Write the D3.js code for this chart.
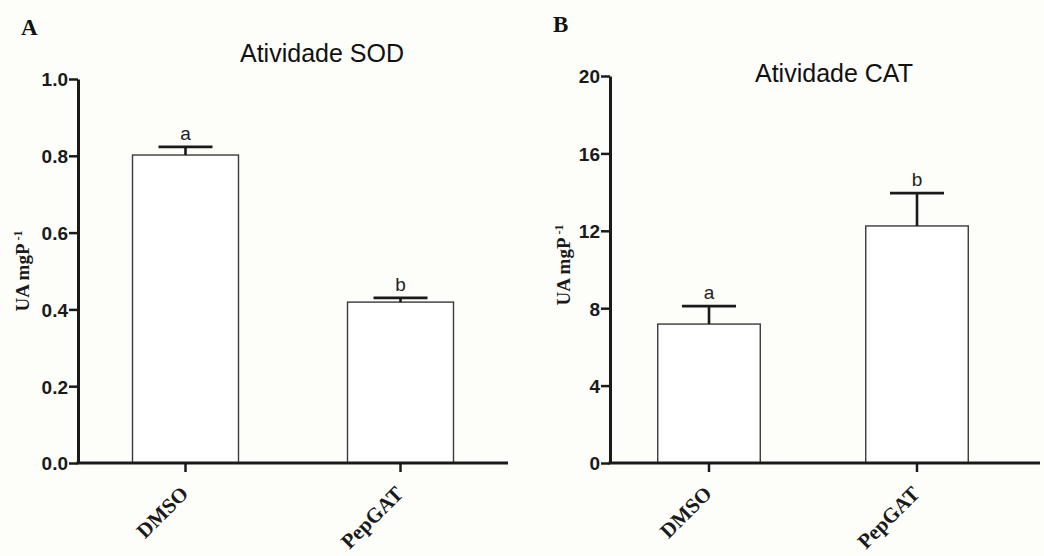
<!DOCTYPE html>
<html>
<head>
<meta charset="utf-8">
<script src="https://cdn.jsdelivr.net/npm/d3@7"></script>
<style>
  html, body { margin: 0; padding: 0; background: #fdfdfa; }
  svg { display: block; }
  .tick text { font-family: "Liberation Sans", Arial, sans-serif; font-weight: bold; font-size: 19px; fill: #1a1a1a; }
</style>
</head>
<body>
<script>
var groups = ['DMSO', 'PepGAT'];

var sodMean = [0.802, 0.419];
var sodErr = [0.021, 0.011];
var sodLetters = ['a', 'b'];
var sodTicks = [0, 0.2, 0.4, 0.6, 0.8, 1.0];

var catMean = [7.18, 12.25];
var catErr = [0.93, 1.70];
var catLetters = ['a', 'b'];
var catTicks = [0, 4, 8, 12, 16, 20];

var w = 1044;
var h = 556;

var svg = d3.select('body').append('svg')
  .attr('width', w)
  .attr('height', h);

function panel(o) {
  var g = svg.append('g');

  var x = d3.scaleBand()
    .domain(groups)
    .range(o.band)
    .paddingInner(0.507)
    .paddingOuter(0.2535);

  var y = d3.scaleLinear()
    .domain([0, o.max])
    .range([463, o.top]);

  // bars
  g.selectAll('rect.bar')
    .data(o.mean)
    .enter().append('rect')
    .attr('class', 'bar')
    .attr('x', function(d, i) { return x(groups[i]); })
    .attr('y', function(d) { return y(d); })
    .attr('width', x.bandwidth())
    .attr('height', function(d) { return y(0) - y(d); })
    .attr('fill', '#ffffff')
    .attr('stroke', '#3a3a3a')
    .attr('stroke-width', 1.4);

  // error bars (upper only)
  var cx = function(i) { return x(groups[i]) + x.bandwidth() / 2; };
  g.selectAll('line.err')
    .data(o.mean)
    .enter().append('line')
    .attr('x1', function(d, i) { return cx(i); })
    .attr('x2', function(d, i) { return cx(i); })
    .attr('y1', function(d) { return y(d); })
    .attr('y2', function(d, i) { return y(d + o.err[i]); })
    .attr('stroke', '#1a1a1a')
    .attr('stroke-width', 2.6);

  g.selectAll('line.cap')
    .data(o.mean)
    .enter().append('line')
    .attr('x1', function(d, i) { return cx(i) - 27; })
    .attr('x2', function(d, i) { return cx(i) + 27; })
    .attr('y1', function(d, i) { return y(d + o.err[i]); })
    .attr('y2', function(d, i) { return y(d + o.err[i]); })
    .attr('stroke', '#1a1a1a')
    .attr('stroke-width', 2.8);

  g.selectAll('text.letter')
    .data(o.letters)
    .enter().append('text')
    .attr('x', function(d, i) { return cx(i); })
    .attr('y', function(d, i) { return y(o.mean[i] + o.err[i]) - 7; })
    .attr('text-anchor', 'middle')
    .style('font-family', '"Liberation Sans", Arial, sans-serif')
    .style('font-size', '19px')
    .style('fill', '#222')
    .text(function(d) { return d; });

  // y axis
  var ya = g.append('g')
    .attr('transform', 'translate(' + o.axisX + ',0)')
    .call(d3.axisLeft(y).tickValues(o.ticks).tickFormat(o.fmt).tickSize(9).tickPadding(1).tickSizeOuter(0));
  ya.select('.domain').attr('stroke', '#1a1a1a').attr('stroke-width', 3);
  ya.selectAll('.tick line').attr('stroke', '#1a1a1a').attr('stroke-width', 2.5);
  ya.selectAll('.tick text').attr('dy', '0.36em');

  // x axis ticks
  var xa = g.append('g')
    .attr('transform', 'translate(0,463)')
    .call(d3.axisBottom(x).tickSize(9).tickFormat(''));
  xa.select('.domain').remove();
  xa.selectAll('.tick line').attr('stroke', '#1a1a1a').attr('stroke-width', 2.5);

  g.append('line')
    .attr('x1', o.axisX - 1.5)
    .attr('x2', o.axisEnd)
    .attr('y1', 463)
    .attr('y2', 463)
    .attr('stroke', '#1a1a1a')
    .attr('stroke-width', 3);

  // x labels, rotated
  g.selectAll('text.xl')
    .data(groups)
    .enter().append('text')
    .attr('transform', function(d) {
      return 'translate(' + (x(d) + x.bandwidth() / 2 + 4) + ',495) rotate(-45)';
    })
    .attr('text-anchor', 'end')
    .style('font-family', '"Liberation Serif", "Times New Roman", serif')
    .style('font-weight', 'bold')
    .style('font-size', '21px')
    .style('fill', '#1a1a1a')
    .text(function(d) { return d; });

  // y label
  var yl = g.append('text')
    .attr('transform', 'translate(' + o.ylabX + ',' + o.ylabY + ') rotate(-90)')
    .attr('text-anchor', 'middle')
    .style('font-family', '"Liberation Serif", "Times New Roman", serif')
    .style('font-weight', 'bold')
    .style('font-size', '19px')
    .style('fill', '#1a1a1a');
  yl.append('tspan').text('UA mgP');
  yl.append('tspan').attr('dy', '-0.6em').style('font-size', '12px').text(' -1');

  // title
  g.append('text')
    .attr('x', o.titleX)
    .attr('y', o.titleY)
    .attr('text-anchor', 'start')
    .style('font-family', '"Liberation Sans", Arial, sans-serif')
    .style('font-size', '25px')
    .style('fill', '#111')
    .text(o.title);

  // panel letter
  g.append('text')
    .attr('x', o.letterX)
    .attr('y', o.letterY)
    .style('font-family', '"Liberation Serif", "Times New Roman", serif')
    .style('font-weight', 'bold')
    .style('font-size', '23px')
    .style('fill', '#111')
    .text(o.letter);
}

panel({
  mean: sodMean, err: sodErr, letters: sodLetters, ticks: sodTicks,
  max: 1.0, top: 79, band: [78, 508], axisX: 78, axisEnd: 508,
  fmt: d3.format('.1f'),
  title: 'Atividade SOD', titleX: 240, titleY: 62,
  letter: 'A', letterX: 21, letterY: 35,
  ylabX: 29, ylabY: 271
});

panel({
  mean: catMean, err: catErr, letters: catLetters, ticks: catTicks,
  max: 20, top: 76, band: [605, 1021], axisX: 610, axisEnd: 1040,
  fmt: d3.format('d'),
  title: 'Atividade CAT', titleX: 755, titleY: 82,
  letter: 'B', letterX: 553, letterY: 32,
  ylabX: 570, ylabY: 265
});
</script>
</body>
</html>
